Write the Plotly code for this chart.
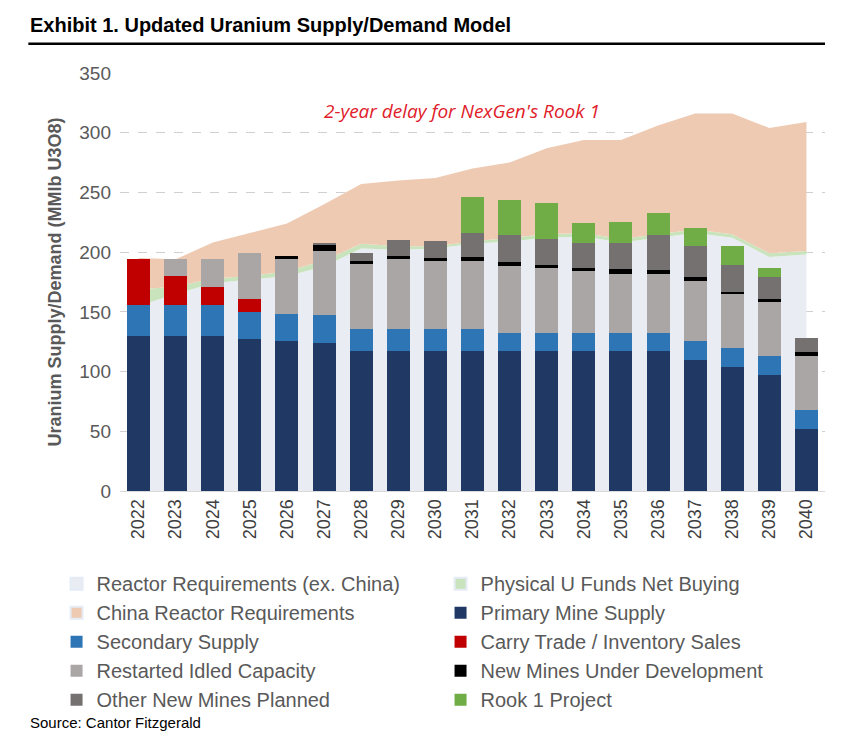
import plotly.graph_objects as go

years = [str(y) for y in range(2022, 2041)]
reactor_ex_china = [155,165,174,177,180,188,203,202,203,207,209,212,213,208,212,216,212,196,198]
physical_funds = [14,6,4,3,4,5,4,3,2,2,3,3,3,3,3,3,3,3,3]
china_top = [195,194,208,216,224,240,257,260,262,270,275,287,294,294,306,316,316,304,309]
china_req = [t - r - p for t, r, p in zip(china_top, reactor_ex_china, physical_funds)]

primary = [130,130,130,127,126,124,117,117,117,117,117,117,117,117,117,110,104,97,52]
secondary = [26,26,26,23,22,23,19,19,19,19,15,15,15,15,15,16,16,16,16]
carry = [38,24,15,11,0,0,0,0,0,0,0,0,0,0,0,0,0,0,0]
restarted = [0,14,23,38,46,54,54,58,57,57,56,55,52,50,50,50,45,45,45]
new_mines = [0,0,0,0,3,5,3,3,2,3,4,2,3,4,3,3,2,3,3]
other_new = [0,0,0,0,0,2,6,13,14,20,22,22,21,22,29,26,22,18,12]
rook1 = [0,0,0,0,0,0,0,0,0,30,30,30,16,17,19,15,16,8,0]

fig = go.Figure()
areas = [("Reactor Requirements (ex. China)", reactor_ex_china, "#E9EDF3"),
         ("Physical U Funds Net Buying", physical_funds, "#C9E4BC"),
         ("China Reactor Requirements", china_req, "#EECAB2")]
for name, vals, col in areas:
    fig.add_trace(go.Scatter(x=years, y=vals, name=name, stackgroup="a", mode="none",
                             fillcolor=col, xaxis="x", yaxis="y", showlegend=False))
for name, vals, col in areas:
    fig.add_trace(go.Bar(x=[years[0]], y=[None], name=name, marker_color=col,
                         xaxis="x2", yaxis="y2", showlegend=True))
bars = [("Primary Mine Supply", primary, "#1F3864"),
        ("Secondary Supply", secondary, "#2E75B6"),
        ("Carry Trade / Inventory Sales", carry, "#C00000"),
        ("Restarted Idled Capacity", restarted, "#AAA6A6"),
        ("New Mines Under Development", new_mines, "#000000"),
        ("Other New Mines Planned", other_new, "#767171"),
        ("Rook 1 Project", rook1, "#70AD47")]
for name, vals, col in bars:
    fig.add_trace(go.Bar(x=years, y=vals, name=name, marker_color=col,
                         marker_line_width=0, xaxis="x2", yaxis="y2"))

fig.update_layout(
    width=853, height=742, barmode="stack", bargap=0.38,
    paper_bgcolor="white", plot_bgcolor="white",
    margin=dict(l=112, r=36, t=65, b=259),
    font=dict(family="Liberation Sans, Arial", color="#595959"),
    showlegend=True,
    legend=dict(orientation="h", x=-0.09, xref="paper", y=-0.175, yanchor="top",
                entrywidth=0.47, entrywidthmode="fraction", traceorder="normal",
                font=dict(size=20, color="#595959"), itemsizing="constant", tracegroupgap=0),
    xaxis=dict(type="category", tickangle=-90, tickfont=dict(size=18, color="#404040"),
               showgrid=False, linecolor="#D9D9D9", ticks=""),
    yaxis=dict(range=[0, 350], dtick=50, gridcolor="#D0D0D0", griddash="dash",
               tickfont=dict(size=19, color="#595959"), zeroline=False, ticklabelstandoff=8,
               title=dict(text="<b>Uranium Supply/Demand (MMlb U3O8)</b>", standoff=12,
                          font=dict(size=18, color="#595959"))),
    xaxis2=dict(type="category", overlaying="x", matches="x", visible=False),
    yaxis2=dict(range=[0, 350], overlaying="y", visible=False),
    annotations=[
        dict(text="<b>Exhibit 1. Updated Uranium Supply/Demand Model</b>", xref="paper", yref="paper",
             x=-0.13, y=1.083, xanchor="left", yanchor="bottom", showarrow=False,
             font=dict(size=20, color="black")),
        dict(text="<i>2-year delay for NexGen's Rook 1</i>", xref="paper", yref="paper",
             x=0.485, y=0.945, showarrow=False, font=dict(size=19, color="#E0202A", family="Open Sans")),
        dict(text="Source: Cantor Fitzgerald", xref="paper", yref="paper", x=-0.13, y=-0.555,
             xanchor="left", yanchor="middle", showarrow=False, font=dict(size=15, color="black")),
    ],
    shapes=[dict(type="line", xref="paper", yref="paper", x0=-0.13, x1=1.0, y0=1.07, y1=1.07,
                 line=dict(color="black", width=2.5))],
)
fig.write_html("out.html")
